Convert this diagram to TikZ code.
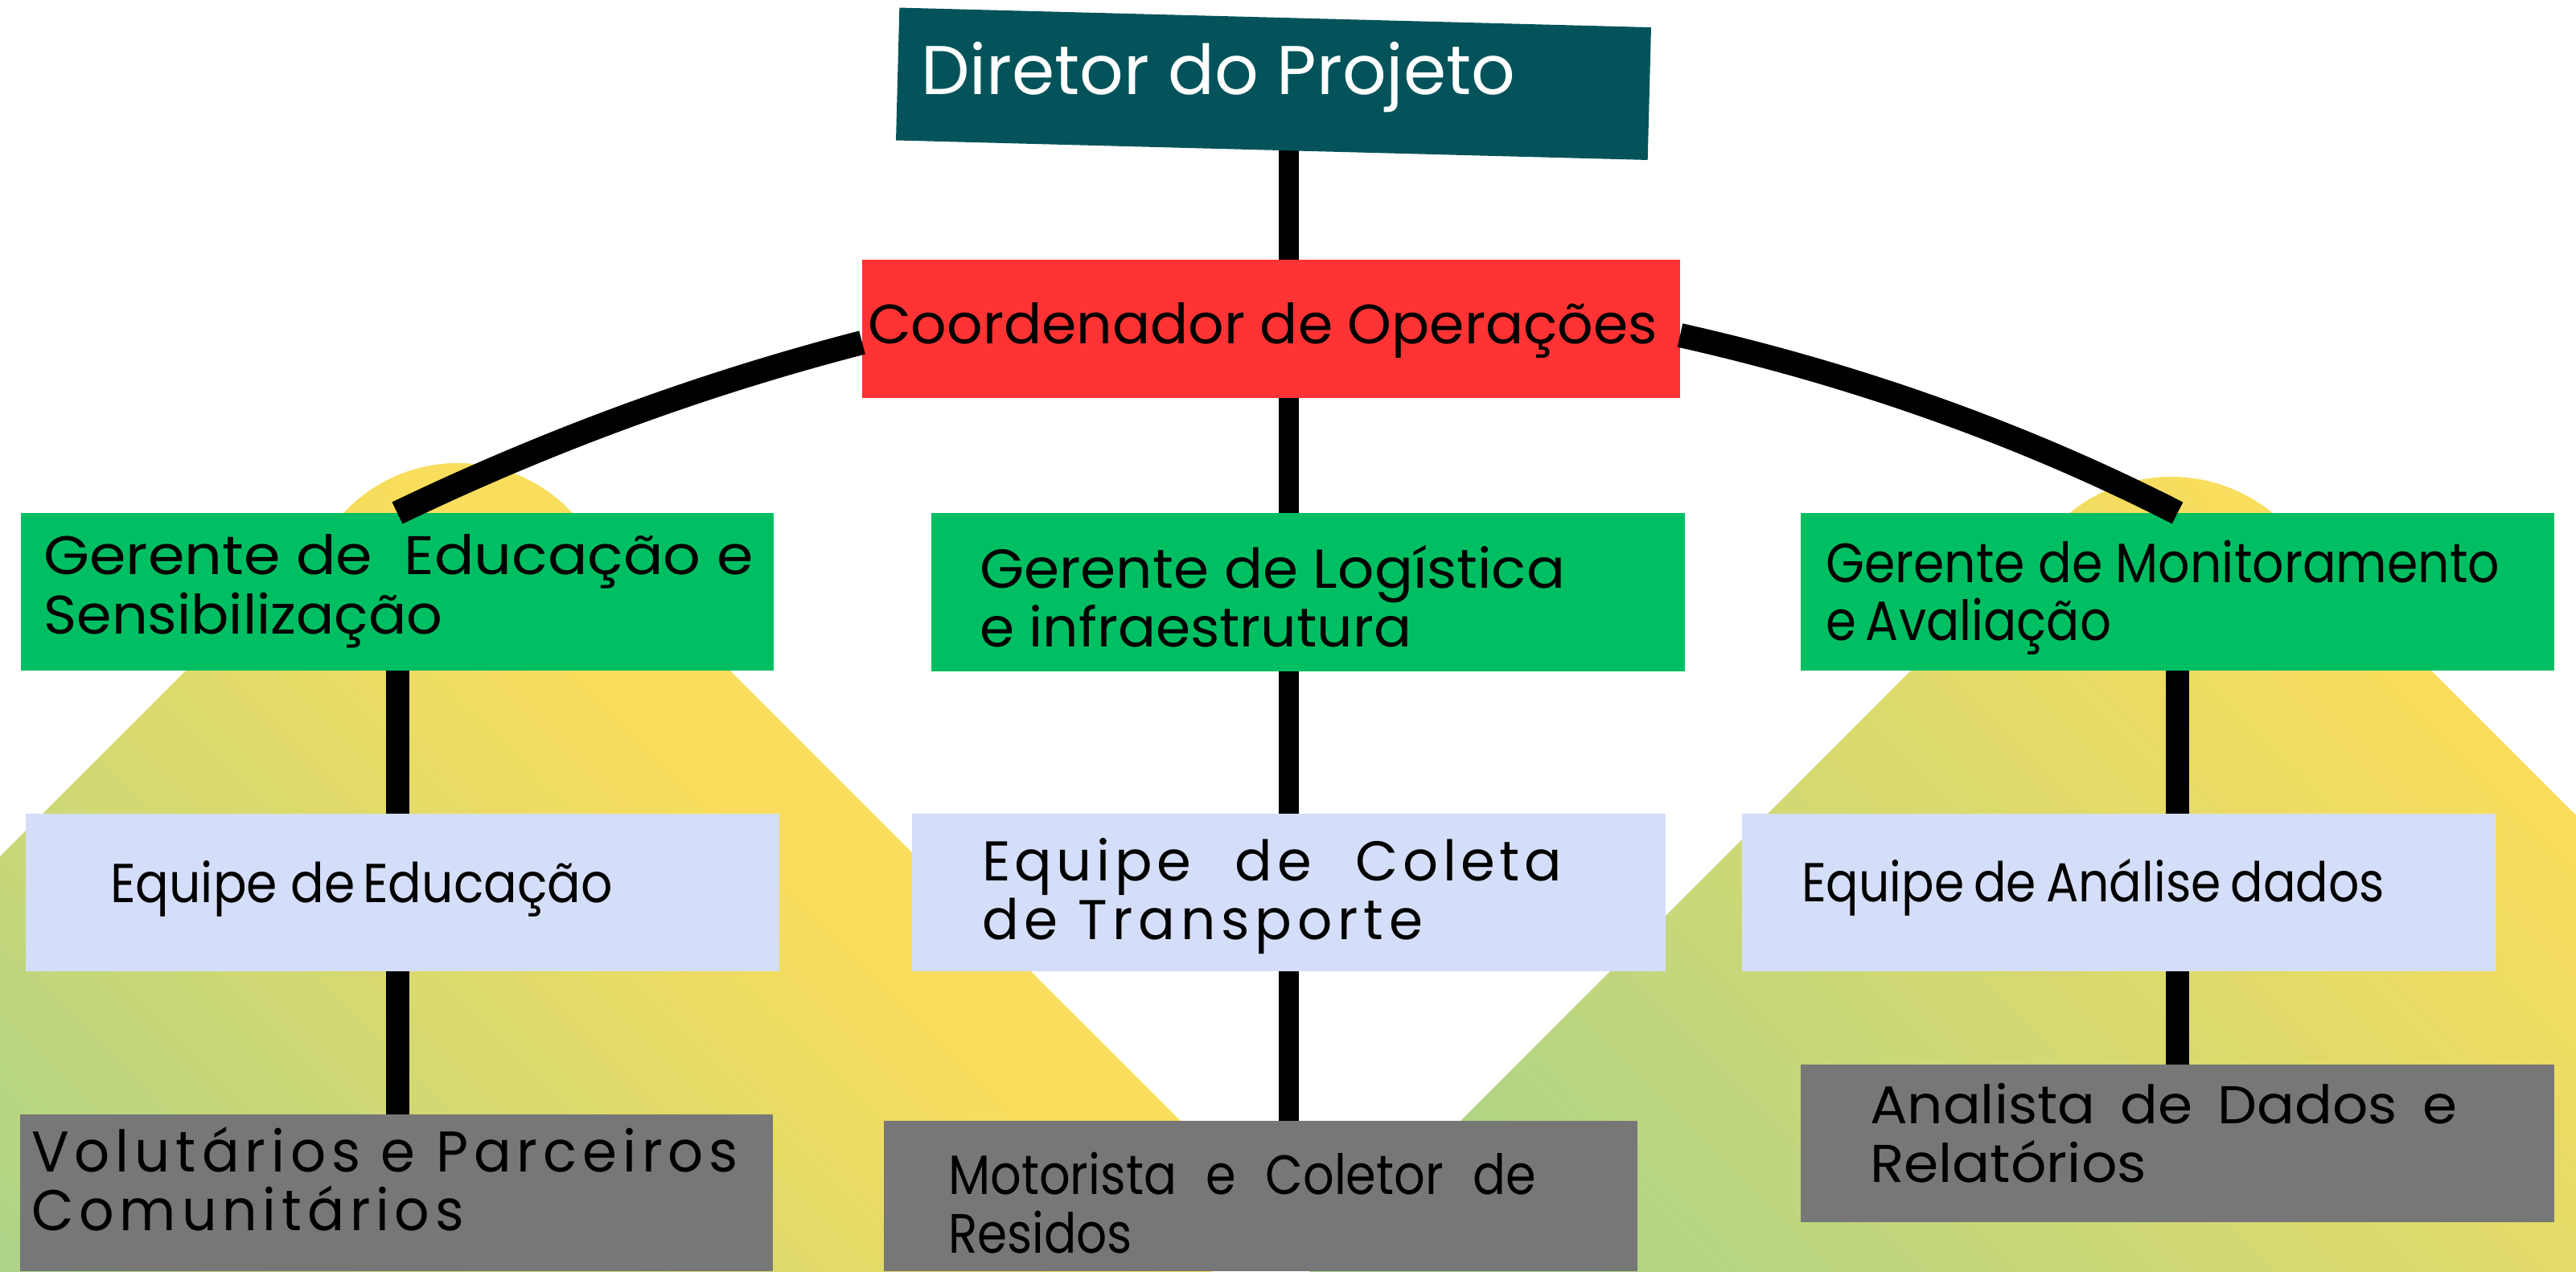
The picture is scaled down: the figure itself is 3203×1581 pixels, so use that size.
\documentclass[tikz,border=0pt]{standalone}
\usepackage{fontspec}
\setmainfont{Poppins}
\usepackage{graphicx}
\usetikzlibrary{calc}
\definecolor{dteal}{HTML}{04535A}
\definecolor{cred}{HTML}{FF3333}
\definecolor{cgreen}{HTML}{00BF63}
\definecolor{cblue}{HTML}{D5DEF8}
\definecolor{cgray}{HTML}{777777}
\definecolor{my}{HTML}{F9DD5C}
\definecolor{mg}{HTML}{ACD488}
\pgfdeclareverticalshading{mnd}{100bp}{color(0bp)=(mg); color(37.5bp)=(mg); color(62.5bp)=(my); color(100bp)=(my)}
\pgfdeclarelayer{mound}\pgfdeclarelayer{conn}\pgfsetlayers{mound,conn,main}
\newdimen\pxu \pxu=0.01cm
\newcommand\fs[1]{\fontsize{#1}{#1}\selectfont}
\newcommand\tline[5]{\node[txt] (#1) at (#2,#3) {\resizebox{#4\pxu}{\height}{#5}};}
\newcommand\bx[6]{\node[boxs, fill=#6, minimum width={(#4-#2)*\pxu}, minimum height={(#5-#3)*\pxu}] (#1) at ({(#2+#4)/2},{(#3+#5)/2}) {};}
\newcommand\trk[1]{\addfontfeatures{LetterSpace=#1}}
\begin{document}
\begin{tikzpicture}[x=0.01cm, y=-0.01cm,
  txt/.style={anchor=base west, inner sep=0pt, outer sep=0pt},
  boxs/.style={inner sep=0pt, outer sep=0pt, draw=none},
  vline/.style={line width=0.25cm, black},
  vlinew/.style={line width=0.29cm, black},
  arcline/.style={line width=0.3cm, black}]
\useasboundingbox (0,0) rectangle (3203,1581);
\begin{pgfonlayer}{mound}
\fill[white] (0,0) rectangle (3203,1581);
\begin{scope}
\clip[rounded corners=1.94cm] (-835,1900) -- (569.5,495.5) -- (1974,1900) -- cycle;
\shade[shading=mnd, shading angle=-45] (-586.5,253.5) rectangle (1506.5,2346.5);
\end{scope}
\begin{scope}
\clip[rounded corners=1.99cm] (1310,1900) -- (2699.5,510.5) -- (4089,1900) -- cycle;
\shade[shading=mnd, shading angle=-45] (1017,-208) rectangle (3633,2408);
\end{scope}
\end{pgfonlayer}

% boxes
\node[boxs, fill=dteal, rotate=-1.5, minimum width=935\pxu, minimum height=165\pxu] (dirbox) at (1583.5,104.25) {};
\bx{coord}{1072}{323}{2089}{495}{cred}
\bx{lgreen}{26}{638}{962}{834}{cgreen}
\bx{mgreen}{1158}{638}{2095}{835}{cgreen}
\bx{rgreen}{2239}{638}{3176}{834}{cgreen}
\bx{lblue}{32}{1012}{969}{1208}{cblue}
\bx{mblue}{1134}{1012}{2071}{1208}{cblue}
\bx{rblue}{2166}{1012}{3103}{1208}{cblue}
\bx{lgray}{25}{1386}{961}{1581}{cgray}
\bx{mgray}{1099}{1394}{2036}{1581}{cgray}
\bx{rgray}{2239}{1324}{3176}{1520}{cgray}

% texts
\tline{tdir}{1145}{117.3}{739}{\color{white}\fs{24.4}Diretor do Projeto}
\tline{tcoord}{1079}{427.3}{982}{\fs{19.6}Coordenador de Operações}
\tline{tlg1}{54.5}{714}{882}{\fs{19.2}Gerente de\ \ Educação e}
\tline{tlg2}{54.5}{788}{496}{\fs{19.2}Sensibilização}
\tline{tmg1}{1218}{731}{728}{\fs{19.4}Gerente de Logística}
\tline{tmg2}{1218}{804.5}{537}{\fs{19.4}e infraestrutura}
\tline{trg1}{2270}{724}{838}{\fs{19.6}Gerente de Monitoramento}
\tline{trg2}{2270}{796.5}{355}{\fs{19.6}e\hspace{.2em}Avaliação}
\tline{tlb}{137}{1122}{625}{\fs{19.4}Equipe de\hspace{.16em}Educação}
\tline{tmb1}{1221}{1095}{721}{\fs{19.8}\trk{8}Equipe\hspace{.8em}de\hspace{.8em}Coleta}
\tline{tmb2}{1221}{1168}{548}{\fs{19.8}\trk{10}de Transporte}
\tline{trb}{2240}{1121}{725}{\fs{19.4}Equipe\hspace{.2em}de\hspace{.2em}Análise\hspace{.2em}dados}
\tline{tlr1}{39}{1457}{879}{\fs{20.3}\trk{10}Volutários e Parceiros}
\tline{tlr2}{39}{1530}{538}{\fs{20.3}\trk{10}Comunitários}
\tline{tmr1}{1179}{1485}{731}{\fs{19.6}Motorista\hspace{.6em}e\hspace{.6em}Coletor\hspace{.6em}de}
\tline{tmr2}{1179}{1558}{229}{\fs{19.6}Residos}
\tline{trr1}{2325}{1397}{730}{\fs{18.8}Analista\hspace{.45em}de\hspace{.45em}Dados\hspace{.45em}e}
\tline{trr2}{2325}{1470}{344}{\fs{18.8}Relatórios}

% connectors
\coordinate (mx) at (1602,0);
\coordinate (lx) at (494.5,0);
\coordinate (rx) at (2707,0);
\begin{pgfonlayer}{conn}
\draw[vline] (dirbox.center -| mx) -- (coord.center -| mx);
\draw[vline] (coord.center -| mx) -- (mgreen.center -| mx);
\draw[vline] (mgreen.center -| mx) -- (mblue.center -| mx);
\draw[vline] (mblue.center -| mx) -- (mgray.center -| mx);
\draw[vlinew] (lgreen.center -| lx) -- (lblue.center -| lx);
\draw[vlinew] (lblue.center -| lx) -- (lgray.center -| lx);
\draw[vlinew] (rgreen.center -| rx) -- (rblue.center -| rx);
\draw[vlinew] (rblue.center -| rx) -- (rgray.center -| rx);
\end{pgfonlayer}
\draw[arcline] ($(coord.west)+(0,17)$) .. controls (875,476.8) and (680,548.5) .. (lgreen.north);
\draw[arcline] ($(coord.east)+(0,8)$) .. controls (2302,464.7) and (2513,538.5) .. (rgreen.north);
\end{tikzpicture}
\end{document}
